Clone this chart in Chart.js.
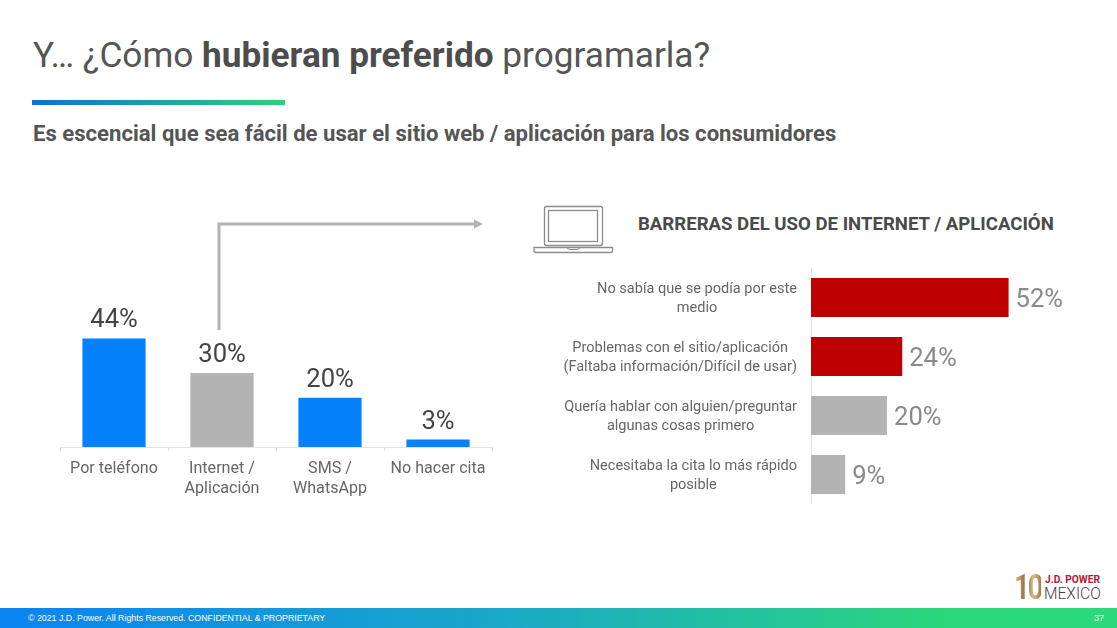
<!DOCTYPE html>
<html lang="es">
<head>
<meta charset="utf-8">
<title>Y… ¿Cómo hubieran preferido programarla?</title>
<script src="https://cdn.jsdelivr.net/npm/chart.js@4/dist/chart.umd.min.js"></script>
<style>
html,body{margin:0;padding:0;width:1117px;height:628px;overflow:hidden;background:#fff;font-family:Roboto,sans-serif}
.abs{position:absolute;white-space:nowrap}
canvas{position:absolute;display:block}
#title{left:33px;top:34px;font-size:35.2px;line-height:42px;color:#555}
#title b{font-weight:700;color:#4d4d4d}
#rule{left:32px;top:100px;width:253px;height:5px;background:linear-gradient(90deg,#0f6fd6,#2bd477)}
#sub{left:33px;top:120px;font-size:22.1px;line-height:26px;font-weight:700;color:#555}
#head{left:638px;top:212px;font-size:18.6px;line-height:24px;font-weight:700;color:#4a4a4a}
#foot{left:0;top:608px;width:1117px;height:20px;background:linear-gradient(90deg,#0a84f2 0%,#1aa8c8 45%,#2bd87a 85%,#2bd87a 100%)}
#copy{left:28px;top:611px;font:8.8px/14px "Liberation Sans",Arial,sans-serif;color:#fff}
#page{left:1094px;top:611px;font:9px/14px "Liberation Sans",Arial,sans-serif;color:#e8fff2}
#ten{left:1014px;top:568px;font-size:35px;line-height:40px;font-weight:700;letter-spacing:-2.5px;background:linear-gradient(90deg,#d9c08c,#8a6a35 45%,#d8c08e 70%,#9b7a42);-webkit-background-clip:text;background-clip:text;color:transparent;transform:scaleX(.78);transform-origin:left}
#jd{left:1045px;top:573px;font-size:10.2px;line-height:14px;font-weight:700;color:#b5172f}
#mx{left:1044px;top:584px;font-size:15.6px;line-height:20px;font-weight:300;color:#444}
</style>
</head>
<body>
<div class="abs" id="title">Y… ¿Cómo <b>hubieran preferido</b> programarla?</div>
<div class="abs" id="rule"></div>
<div class="abs" id="sub">Es escencial que sea fácil de usar el sitio web / aplicación para los consumidores</div>

<svg class="abs" style="left:0;top:0" width="1117" height="628" viewBox="0 0 1117 628" fill="none">
  <path d="M219 330V224H478" stroke="#b3b3b3" stroke-width="3"/>
  <path d="M474 219.5L483 224L474 228.5Z" fill="#b3b3b3"/>
  <rect x="544.5" y="206.5" width="58" height="39" rx="2" stroke="#8c8c8c" stroke-width="1.3"/>
  <rect x="548.5" y="210.5" width="49" height="31" stroke="#8c8c8c" stroke-width="1.3"/>
  <path d="M534 247.5H612.5V250.5Q612.5 252.5 610.5 252.5H536Q534 252.5 534 250.5Z" stroke="#8c8c8c" stroke-width="1.3"/>
  <path d="M567 247.5Q568 249.5 570 249.5H577Q579 249.5 580 247.5" stroke="#8c8c8c" stroke-width="1"/>
</svg>

<div class="abs" id="head">BARRERAS DEL USO DE INTERNET / APLICACIÓN</div>

<canvas id="left" width="452" height="210" style="left:50px;top:299px"></canvas>
<canvas id="right" width="550" height="236" style="left:540px;top:268px"></canvas>

<div class="abs" id="ten">10</div>
<div class="abs" id="jd">J.D. POWER</div>
<div class="abs" id="mx">MEXICO</div>
<div class="abs" id="foot"></div>
<div class="abs" id="copy">© 2021 J.D. Power. All Rights Reserved. CONFIDENTIAL &amp; PROPRIETARY</div>
<div class="abs" id="page">37</div>

<script>
const channelLabels = [["Por teléfono"], ["Internet /", "Aplicación"], ["SMS /", "WhatsApp"], ["No hacer cita"]];
const channelValues = [44, 30, 20, 3];
const channelColors = ["#0481fb", "#b3b3b3", "#0481fb", "#0481fb"];

const barrierLabels = [
  ["No sabía que se podía por este", "medio"],
  ["Problemas con el sitio/aplicación", "(Faltaba información/Difícil de usar)"],
  ["Quería hablar con alguien/preguntar", "algunas cosas primero"],
  ["Necesitaba la cita lo más rápido", "posible"]
];
const barrierValues = [52, 24, 20, 9];
const barrierColors = ["#bf0000", "#bf0000", "#b3b3b3", "#b3b3b3"];

const AXIS = "#e2e2e2";
const valueFont = "25.6px Roboto, sans-serif";

const topLabels = {
  id: "topLabels",
  afterDatasetsDraw(chart) {
    const c = chart.ctx, meta = chart.getDatasetMeta(0);
    c.save();
    c.font = valueFont; c.fillStyle = "#444"; c.textAlign = "center"; c.textBaseline = "middle";
    meta.data.forEach((bar, i) => c.fillText(channelValues[i] + "%", bar.x, bar.y - 17.5));
    c.restore();
  }
};

const sideLabels = {
  id: "sideLabels",
  afterDatasetsDraw(chart) {
    const c = chart.ctx, meta = chart.getDatasetMeta(0), y = chart.scales.y;
    c.save();
    c.textBaseline = "middle";
    meta.data.forEach((bar, i) => {
      c.font = valueFont; c.fillStyle = "#8a8a8a"; c.textAlign = "left";
      c.fillText(barrierValues[i] + "%", bar.x + 7, bar.y + 3);
      // category text: a right-aligned block whose lines are centred on each other
      c.font = "14.55px Roboto, sans-serif"; c.fillStyle = "#666"; c.textAlign = "center";
      const lines = barrierLabels[i];
      const w = Math.max(...lines.map(l => c.measureText(l).width));
      const cx = chart.chartArea.left - 14 - w / 2;
      const cy = y.getPixelForTick(i);
      lines.forEach((l, k) => c.fillText(l, cx, cy + 1.5 + (k - 0.5) * 18.6));
    });
    c.restore();
  }
};

new Chart(document.getElementById("left"), {
  type: "bar",
  data: {
    labels: channelLabels,
    datasets: [{ data: channelValues, backgroundColor: channelColors, borderWidth: 0,
                 barPercentage: 0.585, categoryPercentage: 1 }]
  },
  plugins: [topLabels],
  options: {
    responsive: false, animation: false,
    layout: { padding: { left: 10, right: 10 } },
    plugins: { legend: { display: false }, tooltip: { enabled: false } },
    scales: {
      x: {
        afterFit(s) { s.height = 62; },
        grid: { drawOnChartArea: false, drawTicks: true, tickLength: 4, color: AXIS, offset: true },
        border: { color: AXIS },
        ticks: { font: { family: "Roboto, sans-serif", size: 16.1, lineHeight: 1.23 }, color: "#666", padding: 8.5, maxRotation: 0, autoSkip: false }
      },
      y: { display: false, min: 0, max: 60 }
    }
  }
});

new Chart(document.getElementById("right"), {
  type: "bar",
  data: {
    labels: barrierLabels,
    datasets: [{ data: barrierValues, backgroundColor: barrierColors, borderWidth: 0,
                 barPercentage: 0.66, categoryPercentage: 1 }]
  },
  plugins: [sideLabels],
  options: {
    indexAxis: "y",
    responsive: false, animation: false,
    layout: { padding: { right: 13 } },
    plugins: { legend: { display: false }, tooltip: { enabled: false } },
    scales: {
      x: { display: false, min: 0, max: 70 },
      y: {
        afterFit(s) { s.width = 271; },
        grid: { display: true, drawOnChartArea: false, drawTicks: false },
        border: { color: AXIS },
        ticks: { display: false }
      }
    }
  }
});
</script>
</body>
</html>
